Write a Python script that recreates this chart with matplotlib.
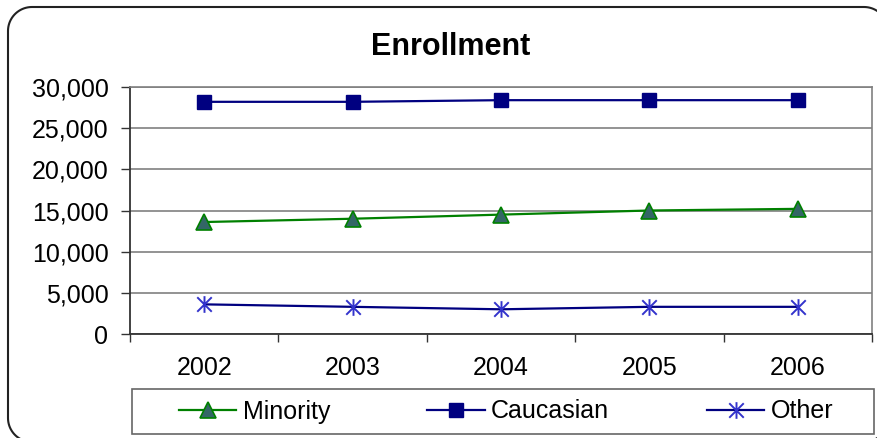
import matplotlib
matplotlib.use("Agg")
import numpy as np
import matplotlib.pyplot as plt
from matplotlib.path import Path
from matplotlib.patches import Rectangle
from matplotlib.lines import Line2D
from matplotlib.transforms import IdentityTransform
from matplotlib.ticker import FuncFormatter, FixedLocator

plt.rcParams['font.family'] = ['Liberation Sans', 'DejaVu Sans']

# data
years = ['2002', '2003', '2004', '2005', '2006']
minority = [13600, 14000, 14500, 15000, 15200]
caucasian = [28200, 28200, 28400, 28400, 28400]
other = [3600, 3300, 3000, 3300, 3300]
y_ticks = [0, 5000, 10000, 15000, 20000, 25000, 30000]

W, H = 878, 438
fig = plt.figure(figsize=(W / 100, H / 100), dpi=100)
ax = fig.add_axes([130 / W, 1 - 334 / H, (872 - 130) / W, (334 - 87) / H])

# asterisk marker like excel (x plus vertical bar)
star = Path([(-1, -1), (1, 1), (-1, 1), (1, -1), (0, -1.15), (0, 1.15)],
            [Path.MOVETO, Path.LINETO, Path.MOVETO, Path.LINETO, Path.MOVETO, Path.LINETO])

x = range(len(years))
ax.plot(x, minority, color='#008000', lw=1.6, marker='^', markersize=11.5,
        markerfacecolor='#336666', markeredgecolor='#008000', markeredgewidth=1.2,
        label='Minority', zorder=3)
ax.plot(x, caucasian, color='#000080', lw=1.6, marker='s', markersize=10.5,
        markerfacecolor='#000080', markeredgecolor='#000080', label='Caucasian', zorder=3)
ax.plot(x, other, color='#000080', lw=1.6, marker=star, markersize=12,
        markerfacecolor='none', markeredgecolor='#3333CC', markeredgewidth=1.4,
        label='Other', zorder=3)

ax.set_xlim(-0.5, len(years) - 0.5)
ax.set_ylim(0, 30000)
ax.set_yticks(y_ticks)
ax.yaxis.set_major_formatter(FuncFormatter(lambda v, p: f'{int(v):,}'))
ax.set_xticks(list(x))
ax.set_xticklabels(years)
ax.xaxis.set_minor_locator(FixedLocator([i - 0.5 for i in range(len(years) + 1)]))

ax.grid(axis='y', color='#808080', lw=1.2)
ax.set_axisbelow(True)
ax.tick_params(axis='y', length=6.5, width=1, color='#333333', pad=9, labelsize=18)
ax.tick_params(axis='x', which='major', length=0, pad=16, labelsize=18)
ax.tick_params(axis='x', which='minor', length=5.5, width=1, color='#333333', direction='out')

for s in ['top', 'right']:
    ax.spines[s].set_color('#808080')
    ax.spines[s].set_linewidth(1.2)
for s in ['left', 'bottom']:
    ax.spines[s].set_color('#333333')
    ax.spines[s].set_linewidth(1.3)

fig.text(451 / W, 1 - 55 / H, 'Enrollment', ha='center', va='baseline',
         fontsize=22, fontweight='bold')

leg = fig.legend(loc='center', bbox_to_anchor=(506 / W, 1 - 411.5 / H), ncol=3,
                 frameon=False, fontsize=18, handlelength=2.3, handletextpad=0.25,
                 columnspacing=3.9)

# legend frame in pixel coords (from top-left)
fig.patches.append(Rectangle((132, H - 434), 874 - 132, 434 - 389, transform=IdentityTransform(),
                             fill=False, edgecolor='#666666', lw=1.2))

# rounded chart border as a polyline (runs off right and bottom edges)
def arc(cx, cy, r, a0, a1):
    a = np.radians(np.linspace(a0, a1, 20))
    return cx + r * np.cos(a), cy - r * np.sin(a)

x0, y0, x1, y1, r = 8, 7, 888, 442, 24
bx, by = [], []
for cx, cy, a0, a1 in [(x0 + r, y1 - r, 270, 180), (x0 + r, y0 + r, 180, 90),
                       (x1 - r, y0 + r, 90, 0), (x1 - r, y1 - r, 0, -90)]:
    ax_, ay_ = arc(cx, cy, r, a0, a1)
    bx.extend(ax_)
    by.extend(ay_)
bx.append(bx[0])
by.append(by[0])
fig.lines.append(Line2D(bx, [H - v for v in by], transform=IdentityTransform(),
                        color='#222222', lw=1.5))

fig.savefig('out.png', dpi=100)
